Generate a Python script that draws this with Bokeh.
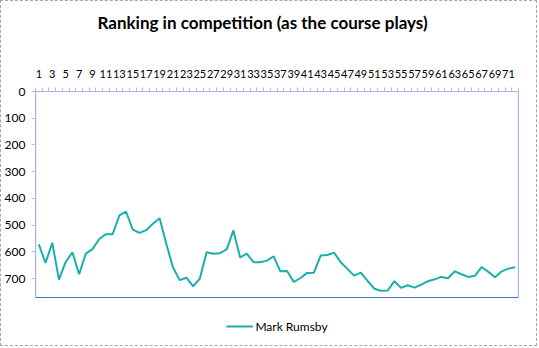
from bokeh.plotting import figure
from bokeh.models import Range1d, FixedTicker, Legend, LegendItem, Title
from bokeh.embed import file_html
from bokeh.resources import INLINE

holes = list(range(1, 73))
rank = [572, 642, 566, 704, 638, 602, 684, 607, 590, 552,
        534, 534, 464, 450, 517, 529, 519, 495, 474, 570,
        659, 706, 697, 729, 700, 602, 607, 605, 591, 520,
        621, 607, 639, 639, 633, 617, 673, 672, 713, 698,
        679, 678, 614, 612, 603, 639, 664, 689, 678, 709,
        738, 746, 745, 710, 735, 725, 734, 723, 710, 703,
        694, 699, 673, 684, 694, 690, 657, 675, 695, 673,
        663, 658]
series_name = "Mark Rumsby"
x_labels = list(range(1, 72, 2))
y_ticks = [0, 100, 200, 300, 400, 500, 600, 700]
y_max = 771

FONT = "Lato"
W, H = 537, 346
TOP, LEFT, RIGHT = 90, 34, 20
AREA_H = 206          # height in px of the plot-area box
FRAME_H = H - TOP     # frame extends to the bottom so the legend fits inside
y_bottom = y_max * FRAME_H / AREA_H

p = figure(width=W, height=H, output_backend="svg", toolbar_location=None,
           x_axis_location="above", x_range=Range1d(0.5, 72.5),
           y_range=Range1d(y_bottom, 0),
           min_border_left=LEFT, min_border_right=RIGHT, min_border_top=TOP,
           min_border_bottom=0)
p.styles = {"border": "1px dashed #a6a6a6"}

# spacer between the top axis and the chart title
p.add_layout(Title(text=" ", text_font_size="29px", standoff=0), "above")

p.title = Title(text="Ranking in competition (as the course plays)",
                align="left", offset=62, text_font=FONT, text_font_size="17px",
                text_font_style="bold", text_color="#000000", standoff=0)

p.xgrid.visible = False
p.ygrid.visible = False
p.outline_line_color = None

# plot-area border (Excel style) drawn over the category/value extent
p.quad(left=[0.5], right=[72.5], top=[0], bottom=[y_max],
       fill_color=None, line_color="#3F6FD0", line_width=1.2)

xa = p.xaxis[0]
xa.ticker = FixedTicker(ticks=x_labels, minor_ticks=[h - 0.5 for h in holes] + [72.5])
xa.axis_line_color = None
xa.major_tick_line_color = None
xa.minor_tick_line_color = "#bfbfbf"
xa.minor_tick_out = 4
xa.minor_tick_in = 0
xa.major_label_text_font = FONT
xa.major_label_text_font_size = "11px"
xa.major_label_text_color = "#000000"
xa.major_label_standoff = 8

ya = p.yaxis[0]
ya.ticker = FixedTicker(ticks=y_ticks)
ya.axis_line_color = None
ya.major_tick_line_color = "#bfbfbf"
ya.major_tick_out = 4
ya.major_tick_in = 0
ya.minor_tick_line_color = None
ya.major_label_text_font = FONT
ya.major_label_text_font_size = "12px"
ya.major_label_text_color = "#000000"
ya.major_label_standoff = 6

r = p.line(holes, rank, line_color="#1AAFAB", line_width=2)

legend = Legend(items=[LegendItem(label=series_name, renderers=[r])],
                orientation="horizontal", location="bottom_center",
                label_text_font=FONT, label_text_font_size="12px",
                label_text_color="#000000", border_line_color=None,
                background_fill_alpha=0, glyph_width=27, label_standoff=3,
                margin=11, padding=4)
p.add_layout(legend, "center")

open("out.html", "w").write(file_html(p, INLINE))
